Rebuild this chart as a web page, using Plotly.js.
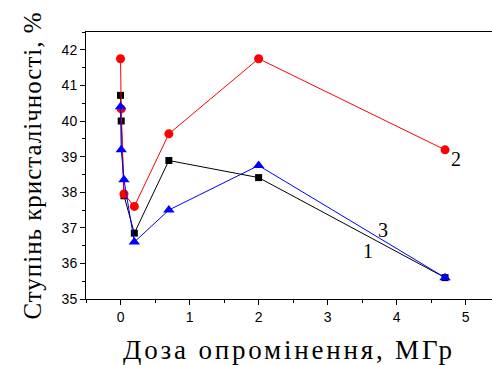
<!DOCTYPE html>
<html>
<head>
<meta charset="utf-8">
<script src="https://cdn.plot.ly/plotly-3.0.1.min.js"></script>
<style>html,body{margin:0;padding:0;background:#fff;}#chart{width:492px;height:365px;}
.xtitle{letter-spacing:2.8px;} .ytitle{letter-spacing:1px;}</style>
</head>
<body>
<div id="chart"></div>
<script>
const dose = [0, 0.01, 0.05, 0.2, 0.7, 2, 4.7];
const series1 = [40.72, 40.0, 37.9, 36.85, 38.89, 38.41, 35.6];
const series2 = [41.75, 40.34, 37.95, 37.6, 39.64, 41.75, 39.19];
const series3 = [40.4, 39.19, 38.35, 36.6, 37.5, 38.75, 35.6];
const seriesLabels = ['1', '2', '3'];
const xTickVals = [0, 1, 2, 3, 4, 5];
const yTickVals = [35, 36, 37, 38, 39, 40, 41, 42];

const traces = [
  {x: dose, y: series1, mode: 'lines+markers', name: seriesLabels[0],
   line: {color: '#000000', width: 1}, marker: {symbol: 'square', size: 7, color: '#000000'}},
  {x: dose, y: series2, mode: 'lines+markers', name: seriesLabels[1],
   line: {color: '#ff0000', width: 1}, marker: {symbol: 'circle', size: 9, color: '#ff0000'}},
  {x: dose, y: series3, mode: 'lines+markers', name: seriesLabels[2],
   line: {color: '#0000ff', width: 1}, marker: {symbol: 'triangle-up', size: 10, color: '#0000ff'}}
];

const layout = {
  width: 492, height: 365,
  margin: {l: 86, r: 0, t: 32, b: 66},
  paper_bgcolor: '#ffffff', plot_bgcolor: '#ffffff',
  showlegend: false,
  xaxis: {
    range: [-0.5, 5.38], tickvals: xTickVals, ticks: 'outside', ticklen: 5, tickwidth: 1,
    tickcolor: '#000', showline: true, linecolor: '#000', linewidth: 1, mirror: true,
    showgrid: false, zeroline: false,
    minor: {dtick: 0.5, ticks: 'outside', ticklen: 3, tickcolor: '#000', showgrid: false},
    tickfont: {family: 'Liberation Sans, Arial', size: 14, color: '#000'},
    title: {text: 'Доза опромінення, МГр', font: {family: 'Liberation Serif, Times New Roman', size: 27, color: '#000'}, standoff: 17}
  },
  yaxis: {
    range: [35, 42.5], tickvals: yTickVals, ticks: 'outside', ticklen: 5, tickwidth: 1,
    tickcolor: '#000', showline: true, linecolor: '#000', linewidth: 1, mirror: false,
    showgrid: false, zeroline: false,
    minor: {dtick: 0.5, ticks: 'outside', ticklen: 3, tickcolor: '#000', showgrid: false},
    tickfont: {family: 'Liberation Sans, Arial', size: 14, color: '#000'},
    title: {text: 'Ступінь кристалічності, %', font: {family: 'Liberation Serif, Times New Roman', size: 25, color: '#000'}, standoff: 12}
  },
  annotations: [
    {x: dose[6], y: series2[6], text: seriesLabels[1], showarrow: false, xanchor: 'left', yanchor: 'middle', xshift: 4, yshift: -9,
     font: {family: 'Liberation Serif, Times New Roman', size: 20, color: '#000'}},
    {x: 3.8, y: 36.94, text: seriesLabels[2], showarrow: false, font: {family: 'Liberation Serif, Times New Roman', size: 20, color: '#000'}},
    {x: 3.58, y: 36.35, text: seriesLabels[0], showarrow: false, font: {family: 'Liberation Serif, Times New Roman', size: 20, color: '#000'}}
  ]
};

Plotly.newPlot('chart', traces, layout, {displayModeBar: false, staticPlot: true});
</script>
</body>
</html>
